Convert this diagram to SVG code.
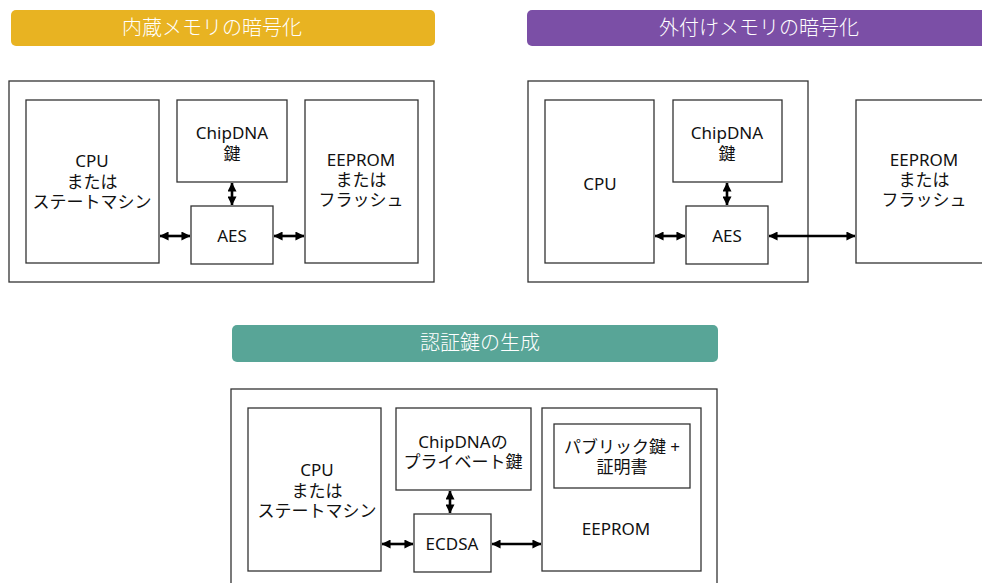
<svg xmlns="http://www.w3.org/2000/svg" width="982" height="583" viewBox="0 0 982 583">
<style>
.bx{fill:#fff;stroke:#333;stroke-width:1.3}
.t{font-family:"Noto Sans","Noto Sans CJK JP",sans-serif;font-size:17px;fill:#111;text-anchor:middle}
.bt{font-family:"Noto Sans CJK JP","Noto Sans",sans-serif;font-size:20px;font-weight:300;fill:#fff;text-anchor:middle}
.ar{stroke:#000;stroke-width:2.6;fill:none;marker-start:url(#ah);marker-end:url(#ah)}
</style>
<defs>
<marker id="ah" viewBox="0 0 10 10" refX="9.5" refY="5" markerWidth="9" markerHeight="9" markerUnits="userSpaceOnUse" orient="auto-start-reverse">
<path d="M0,0 L10,5 L0,10 z" fill="#000"/>
</marker>
</defs>
<rect width="982" height="583" fill="#fff"/>

<g id="banner1"><rect x="11" y="10" width="424" height="36" rx="5" fill="#E8B322"/><text class="bt" x="212" y="35">内蔵メモリの暗号化</text></g>
<g id="banner2"><rect x="527" y="10" width="470" height="36" rx="5" fill="#7B4FA6"/><text class="bt" x="759" y="35">外付けメモリの暗号化</text></g>
<g id="banner3"><rect x="232" y="325" width="486" height="37" rx="5" fill="#58A597"/><text class="bt" x="480" y="350">認証鍵の生成</text></g>

<g id="d1-frame"><rect class="bx" x="9" y="81" width="425" height="201"/></g>
<g id="d1-cpu"><rect class="bx" x="26" y="100" width="133" height="163"/><text class="t" x="92" y="167">CPU</text><text class="t" x="92" y="188">または</text><text class="t" x="92" y="208">ステートマシン</text></g>
<g id="d1-chipdna"><rect class="bx" x="177" y="100" width="110" height="82"/><text class="t" x="232" y="139">ChipDNA</text><text class="t" x="232" y="160">鍵</text></g>
<g id="d1-aes"><rect class="bx" x="191" y="206" width="82" height="58"/><text class="t" x="232" y="242">AES</text></g>
<g id="d1-eeprom"><rect class="bx" x="305" y="100" width="113" height="163"/><text class="t" x="361" y="166">EEPROM</text><text class="t" x="361" y="186">または</text><text class="t" x="361" y="206">フラッシュ</text></g>

<g id="d2-frame"><rect class="bx" x="528" y="81" width="280" height="201"/></g>
<g id="d2-cpu"><rect class="bx" x="545" y="100" width="109" height="163"/><text class="t" x="600" y="190">CPU</text></g>
<g id="d2-chipdna"><rect class="bx" x="673" y="100" width="109" height="82"/><text class="t" x="727" y="139">ChipDNA</text><text class="t" x="727" y="160">鍵</text></g>
<g id="d2-aes"><rect class="bx" x="686" y="206" width="82" height="58"/><text class="t" x="727" y="242">AES</text></g>
<g id="d2-eeprom"><rect class="bx" x="856" y="100" width="140" height="163"/><text class="t" x="924" y="166">EEPROM</text><text class="t" x="924" y="186">または</text><text class="t" x="924" y="206">フラッシュ</text></g>

<g id="d3-frame"><rect class="bx" x="231" y="389" width="486" height="210"/></g>
<g id="d3-cpu"><rect class="bx" x="248" y="408" width="133" height="163"/><text class="t" x="317" y="476">CPU</text><text class="t" x="317" y="497">または</text><text class="t" x="317" y="517">ステートマシン</text></g>
<g id="d3-chipdna"><rect class="bx" x="396" y="408" width="135" height="82"/><text class="t" x="463" y="448">ChipDNAの</text><text class="t" x="463" y="468">プライベート鍵</text></g>
<g id="d3-ecdsa"><rect class="bx" x="414" y="514" width="77" height="58"/><text class="t" x="452" y="550">ECDSA</text></g>
<g id="d3-eeprom"><rect class="bx" x="542" y="408" width="159" height="163"/><text class="t" x="616" y="535">EEPROM</text></g>
<g id="d3-pubkey"><rect class="bx" x="554" y="424" width="136" height="64"/><text class="t" x="622" y="453">パブリック鍵 +</text><text class="t" x="622" y="473">証明書</text></g>

<g id="connectors">
<line class="ar" x1="160" y1="236" x2="190" y2="236"/>
<line class="ar" x1="232" y1="183" x2="232" y2="205"/>
<line class="ar" x1="274" y1="236" x2="304" y2="236"/>
<line class="ar" x1="655" y1="236" x2="685" y2="236"/>
<line class="ar" x1="727" y1="183" x2="727" y2="205"/>
<line class="ar" x1="769" y1="236" x2="855" y2="236"/>
<line class="ar" x1="382" y1="544" x2="413" y2="544"/>
<line class="ar" x1="450" y1="491" x2="450" y2="513"/>
<line class="ar" x1="492" y1="544" x2="541" y2="544"/>
</g>
</svg>
